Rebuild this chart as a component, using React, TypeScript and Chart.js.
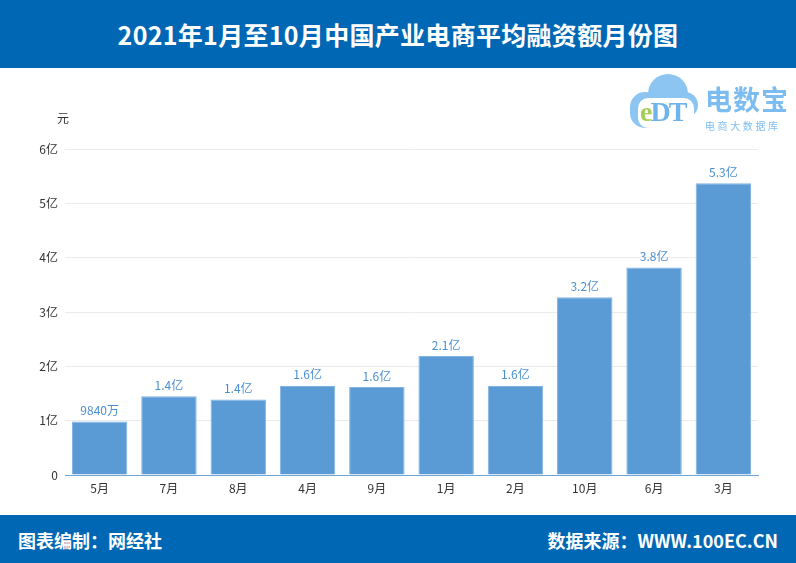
import React, { useEffect, useRef } from "react";
import { Chart, registerables } from "chart.js";

Chart.register(...registerables);

const categories = ["5月", "7月", "8月", "4月", "9月", "1月", "2月", "10月", "6月", "3月"];
const values = [0.984, 1.45, 1.39, 1.64, 1.62, 2.19, 1.64, 3.27, 3.82, 5.37];
const valueLabels = ["9840万", "1.4亿", "1.4亿", "1.6亿", "1.6亿", "2.1亿", "1.6亿", "3.2亿", "3.8亿", "5.3亿"];
const yTicks = [0, 1, 2, 3, 4, 5, 6];
const titleText = "2021年1月至10月中国产业电商平均融资额月份图";
const unitText = "元";
const footerLeft = "图表编制：网经社";
const footerRight = "数据来源：WWW.100EC.CN";

const FONT = "'Noto Sans CJK SC', 'Noto Sans', sans-serif";

const labelPlugin = {
  id: "barLabels",
  afterDatasetsDraw(chart: any) {
    const ctx = chart.ctx;
    const meta = chart.getDatasetMeta(0);
    ctx.save();
    ctx.fillStyle = "#4a8fd2";
    ctx.font = `12px ${FONT}`;
    ctx.textAlign = "center";
    ctx.textBaseline = "bottom";
    meta.data.forEach((bar: any, i: number) => {
      ctx.fillText(valueLabels[i], bar.x, bar.y - 5);
    });
    ctx.fillStyle = "#333";
    ctx.textAlign = "center";
    ctx.textBaseline = "middle";
    ctx.fillText(unitText, 63, 118 - 68);
    ctx.restore();
  },
};

export default function App() {
  const ref = useRef<HTMLCanvasElement | null>(null);
  useEffect(() => {
    document.body.style.margin = "0";
    if (!ref.current) return;
    const chart = new Chart(ref.current, {
      type: "bar",
      data: {
        labels: categories,
        datasets: [
          {
            data: values,
            backgroundColor: "#5b9bd5",
            borderColor: "#80b3e3",
            borderWidth: 1,
            barPercentage: 0.8,
            categoryPercentage: 1,
          },
        ],
      },
      options: {
        animation: false,
        responsive: false,
        maintainAspectRatio: false,
        layout: { padding: { top: 81, right: 38, bottom: 0, left: 0 } },
        plugins: { legend: { display: false }, tooltip: { enabled: false } },
        scales: {
          x: {
            grid: { display: false, drawTicks: false },
            border: { display: true, color: "#6fa5d8", width: 1 },
            ticks: { color: "#333", font: { size: 12, family: FONT }, padding: 6 },
            afterFit(scale: any) {
              scale.height = 40;
            },
          },
          y: {
            min: 0,
            max: 6,
            afterBuildTicks(scale: any) {
              scale.ticks = yTicks.map((v) => ({ value: v }));
            },
            grid: { color: "#ebebeb", drawTicks: false },
            border: { display: false },
            ticks: {
              color: "#333",
              font: { size: 12, family: FONT },
              padding: 7,
              callback: (v: any) => (v === 0 ? "0" : v + "亿"),
            },
            afterFit(scale: any) {
              scale.width = 65;
            },
          },
        },
      },
      plugins: [labelPlugin],
    });
    return () => chart.destroy();
  }, []);

  return (
    <div style={{ position: "relative", width: 796, height: 563, background: "#fff", overflow: "hidden", fontFamily: FONT }}>
      <div
        style={{
          position: "absolute",
          left: 0,
          top: 0,
          width: 796,
          height: 68,
          background: "#0067b5",
          color: "#fff",
          fontWeight: 700,
          fontSize: 25,
          lineHeight: "68px",
          textAlign: "center",
          letterSpacing: 0.3,
        }}
      >
        {titleText}
      </div>
      <canvas ref={ref} width={796} height={447} style={{ position: "absolute", left: 0, top: 68 }} />
      <div style={{ position: "absolute", left: 628, top: 74, width: 76, height: 60 }}>
        <div style={{ position: "absolute", left: 20, top: 0, width: 40, height: 40, borderRadius: 20, background: "#8cc4f2" }} />
        <div style={{ position: "absolute", left: 2, top: 18, width: 30, height: 36, borderRadius: 18, background: "#8cc4f2" }} />
        <div style={{ position: "absolute", left: 44, top: 18, width: 26, height: 26, borderRadius: 13, background: "#8cc4f2" }} />
        <div style={{ position: "absolute", left: 10, top: 24, width: 56, height: 30, borderRadius: 10, background: "#ffffff" }} />
        <div
          style={{
            position: "absolute",
            left: 12,
            top: 22,
            fontSize: 28,
            fontWeight: 700,
            fontFamily: "'Liberation Serif', serif",
            letterSpacing: -2,
            lineHeight: "32px",
          }}
        >
          <span style={{ color: "#a5cf58" }}>e</span>
          <span style={{ color: "#6fb4ec" }}>DT</span>
        </div>
      </div>
      <div style={{ position: "absolute", left: 705, top: 82, color: "#7cbcf0", fontSize: 27, fontWeight: 700, lineHeight: "34px", letterSpacing: 1 }}>
        电数宝
      </div>
      <div style={{ position: "absolute", left: 705, top: 119, color: "#7cbcf0", fontSize: 10, lineHeight: "14px", letterSpacing: 2.6 }}>
        电商大数据库
      </div>
      <div
        style={{
          position: "absolute",
          left: 0,
          top: 515,
          width: 796,
          height: 48,
          background: "#0067b5",
          color: "#fff",
          fontWeight: 700,
          fontSize: 18,
          lineHeight: "50px",
        }}
      >
        <span style={{ position: "absolute", left: 18 }}>{footerLeft}</span>
        <span style={{ position: "absolute", right: 18 }}>{footerRight}</span>
      </div>
    </div>
  );
}
